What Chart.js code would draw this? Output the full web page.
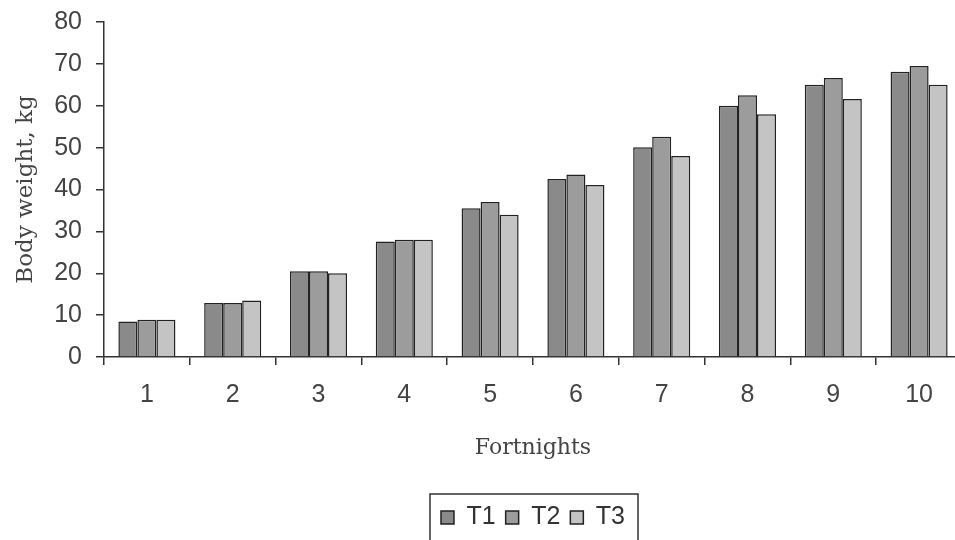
<!DOCTYPE html>
<html>
<head>
<meta charset="utf-8">
<script src="https://cdn.jsdelivr.net/npm/chart.js@4"></script>
<style>
  body { margin: 0; background: #fff; overflow: hidden; }
  #wrap { width: 962px; height: 540px; }
</style>
</head>
<body>
<div id="wrap"><canvas id="weightChart"></canvas></div>
<script>
const fortnights = ['1', '2', '3', '4', '5', '6', '7', '8', '9', '10'];
const t1 = [8.5, 12.9, 20.5, 27.6, 35.5, 42.5, 50.1, 60.0, 65.0, 68.1];
const t2 = [8.9, 12.9, 20.5, 28.0, 37.0, 43.6, 52.6, 62.5, 66.6, 69.5];
const t3 = [8.9, 13.5, 20.0, 28.0, 34.0, 41.1, 48.0, 58.0, 61.6, 65.0];

const sans = "'Liberation Sans', Arial, sans-serif";
const serif = "'DejaVu Serif', serif";

// box round the legend, like the old excel style
const legendFrame = {
  id: 'legendFrame',
  afterDraw(chart) {
    const boxes = chart.legend.legendHitBoxes;
    if (!boxes || !boxes.length) return;
    const first = boxes[0], last = boxes[boxes.length - 1];
    const ctx = chart.ctx;
    ctx.save();
    ctx.strokeStyle = '#333';
    ctx.lineWidth = 1.5;
    ctx.strokeRect(first.left - 11, first.top - 11, last.left + last.width - first.left + 24, 80);
    ctx.restore();
  }
};

const ctx = document.getElementById('weightChart').getContext('2d');

new Chart(ctx, {
  type: 'bar',
  data: {
    labels: fortnights,
    datasets: [
      { label: 'T1', data: t1, backgroundColor: '#8a8a8a' },
      { label: 'T2', data: t2, backgroundColor: '#9c9c9c' },
      { label: 'T3', data: t3, backgroundColor: '#c4c4c4' }
    ].map(d => Object.assign(d, { borderColor: '#222', borderWidth: 1.5 }))
  },
  options: {
    responsive: true,
    maintainAspectRatio: false,
    animation: false,
    layout: { padding: { top: 22, right: 0, bottom: 0, left: 0 } },
    datasets: { bar: { categoryPercentage: 0.665, barPercentage: 1 } },
    plugins: {
      tooltip: { enabled: false },
      legend: {
        position: 'bottom',
        fullSize: false,
        labels: {
          boxWidth: 13, boxHeight: 13, padding: 10,
          color: '#333',
          font: { family: sans, size: 25 }
        }
      }
    },
    scales: {
      x: {
        grid: { drawOnChartArea: false, tickLength: 8, color: '#333', lineWidth: 1.5, offset: true },
        border: { color: '#333', width: 1.5 },
        ticks: { color: '#444', padding: 15, font: { family: sans, size: 25 } },
        title: {
          display: true, text: 'Fortnights', color: '#444',
          font: { family: serif, size: 22 }, padding: { top: 0, bottom: 34 }
        },
        afterFit(scale) { scale.height = 138; }
      },
      y: {
        min: 0, max: 80,
        grid: { drawOnChartArea: false, tickLength: 8, color: '#333', lineWidth: 1.5 },
        border: { color: '#333', width: 1.5 },
        ticks: { stepSize: 10, color: '#444', padding: 14, font: { family: sans, size: 25 } },
        title: {
          display: true, text: 'Body weight, kg', color: '#444',
          font: { family: serif, size: 23 }, padding: { top: 12, bottom: 0 }
        },
        afterFit(scale) {
          scale.width = 104;
          scale.paddingTop = 0;
          scale.paddingBottom = 0;
        }
      }
    }
  },
  plugins: [legendFrame]
});
</script>
</body>
</html>
